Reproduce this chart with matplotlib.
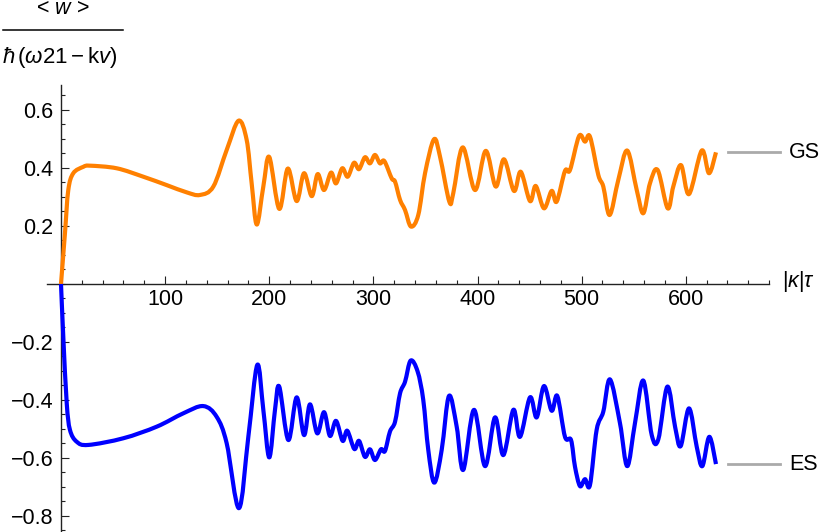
import numpy as np
import matplotlib
matplotlib.use("Agg")
import matplotlib.pyplot as plt
from matplotlib.lines import Line2D
from matplotlib.path import Path
from matplotlib.patches import PathPatch
from matplotlib.ticker import FixedLocator

plt.rcParams['font.family'] = ['Liberation Sans', 'DejaVu Sans']
plt.rcParams['mathtext.fontset'] = 'custom'
plt.rcParams['mathtext.rm'] = 'Liberation Sans'
plt.rcParams['mathtext.it'] = 'Liberation Sans:italic'
plt.rcParams['mathtext.fallback'] = 'stixsans'

# ====================
# Data
# ====================
gs_t = [0, 3.8, 7.0, 11.8, 21.4, 27.8, 53.5, 79.0, 101.5, 120.7, 133.5, 146.3,
        159.1, 170.5, 178.3, 183.1, 188.0, 194.3, 200.0, 209.6, 217.8, 226.3,
        233.4, 240.8, 246.5, 252.6, 259.3, 264.1, 270.1, 275.3, 281.4, 286.2,
        291.9, 296.7, 301.5, 306.3, 310.5, 317.6, 320.8, 325.6, 330.4, 336.1,
        343.1, 349.6, 358.2, 364.0, 372.9, 376.7, 385.8, 397.6, 407.9, 417.5,
        425.4, 435.0, 441.5, 450.4, 455.9, 463.8, 471.2, 476.0, 484.0, 488.8,
        497.5, 503.2, 508.0, 516.0, 520.8, 526.9, 535.2, 543.8, 552.9, 559.2,
        565.6, 573.0, 582.6, 588.0, 595.4, 603.1, 615.3, 622.3, 629.0]
gs_w = [0, 0.175, 0.324, 0.382, 0.404, 0.408, 0.399, 0.370, 0.341, 0.316, 0.307, 0.336,
        0.462, 0.563, 0.497, 0.347, 0.205, 0.336, 0.438, 0.259, 0.398, 0.286,
        0.382, 0.303, 0.379, 0.324, 0.384, 0.347, 0.399, 0.370, 0.418, 0.396,
        0.437, 0.416, 0.445, 0.416, 0.424, 0.364, 0.353, 0.290, 0.255, 0.198,
        0.238, 0.382, 0.499, 0.439, 0.284, 0.313, 0.471, 0.324, 0.459, 0.336,
        0.430, 0.321, 0.387, 0.286, 0.338, 0.261, 0.321, 0.284, 0.390, 0.393,
        0.510, 0.491, 0.508, 0.376, 0.336, 0.238, 0.359, 0.460, 0.324, 0.244,
        0.347, 0.393, 0.261, 0.336, 0.410, 0.310, 0.460, 0.382, 0.454]

es_t = [0, 2.2, 5.5, 8.6, 15.1, 26.2, 59.8, 91.9, 117.4, 136.7, 149.5, 159.1,
        170.9, 179.9, 188.5, 194.3, 200.0, 205.5, 209.6, 218.3, 226.3, 233.4,
        239.1, 246.1, 252.6, 258.3, 264.1, 270.5, 274.9, 281.7, 286.2, 291.9,
        296.7, 301.5, 307.3, 311.1, 315.9, 320.8, 325.6, 330.4, 335.8, 342.5,
        347.9, 352.7, 358.5, 365.6, 372.6, 380.0, 386.3, 396.6, 407.2, 416.8,
        424.8, 434.4, 440.8, 450.4, 456.8, 463.8, 471.2, 476.6, 484.0, 489.8,
        493.6, 498.4, 503.2, 508.0, 514.4, 520.8, 527.2, 536.8, 543.8, 551.2,
        559.2, 567.3, 573.6, 582.3, 589.7, 595.1, 603.1, 610.5, 615.9, 622.6, 629.0]
es_w = [0, -0.182, -0.411, -0.503, -0.544, -0.555, -0.532, -0.492, -0.446, -0.421, -0.458, -0.549,
        -0.773, -0.527, -0.279, -0.434, -0.598, -0.434, -0.354, -0.538, -0.391, -0.521,
        -0.415, -0.515, -0.442, -0.524, -0.472, -0.541, -0.506, -0.569, -0.541, -0.596,
        -0.570, -0.607, -0.570, -0.576, -0.509, -0.475, -0.377, -0.337, -0.264, -0.302,
        -0.400, -0.572, -0.685, -0.572, -0.386, -0.492, -0.641, -0.434, -0.628, -0.460,
        -0.590, -0.434, -0.527, -0.391, -0.460, -0.352, -0.437, -0.386, -0.527, -0.538,
        -0.630, -0.697, -0.673, -0.693, -0.503, -0.440, -0.329, -0.480, -0.628, -0.480,
        -0.333, -0.521, -0.536, -0.354, -0.492, -0.559, -0.429, -0.561, -0.628, -0.527, -0.621]

labels = ["GS", "ES"]
colors = ["#FF8000", "#0000FF"]

x_major = [100, 200, 300, 400, 500, 600]
y_major = [-0.8, -0.6, -0.4, -0.2, 0.2, 0.4, 0.6]


def smooth_path(xs, ys):
    # cubic Bezier segments through the read points (Catmull-Rom handles)
    P = np.column_stack([xs, ys])
    verts = [P[0]]
    codes = [Path.MOVETO]
    n = len(P)
    for i in range(n - 1):
        p0 = P[max(i - 1, 0)]
        p1 = P[i]
        p2 = P[i + 1]
        p3 = P[min(i + 2, n - 1)]
        verts += [p1 + (p2 - p0) / 6, p2 - (p3 - p1) / 6, p2]
        codes += [Path.CURVE4] * 3
    return Path(verts, codes)


# ====================
# Figure
# ====================
W, H = 830, 532
fig = plt.figure(figsize=(W / 100, H / 100), dpi=100)
ax = fig.add_axes([0, 0, 1, 1])
ax.patch.set_alpha(0)
ax.set_xlim(-58.58, 738.5)
ax.set_ylim(-0.8552, 0.9793)

fs = 15.5
axcol = "#222222"

for s in ["top", "right"]:
    ax.spines[s].set_visible(False)
ax.spines["left"].set_position(("data", 0))
ax.spines["bottom"].set_position(("data", 0))
ax.spines["left"].set_bounds(-0.855, 0.686)
ax.spines["bottom"].set_bounds(-13.4, 680)
for s in ["left", "bottom"]:
    ax.spines[s].set_linewidth(1.0)
    ax.spines[s].set_color(axcol)

ax.xaxis.set_major_locator(FixedLocator(x_major))
ax.xaxis.set_minor_locator(FixedLocator(np.arange(20, 681, 20)))
ax.yaxis.set_major_locator(FixedLocator(y_major))
ax.yaxis.set_minor_locator(FixedLocator(np.round(np.arange(-0.85, 0.66, 0.05), 2)))
ax.set_xticklabels([str(v) for v in x_major])
ax.set_yticklabels([f"{v:.1f}".replace("-", "\u2212") for v in y_major])
ax.tick_params(which="both", direction="in", color=axcol, width=0.8,
               labelsize=fs, labelcolor="black")
ax.tick_params(which="major", length=5.5)
ax.tick_params(which="minor", length=3.1)
ax.tick_params(axis="x", pad=3.5)
ax.tick_params(axis="y", pad=5.5)

# curves
for t, w, c in [(gs_t, gs_w, colors[0]), (es_t, es_w, colors[1])]:
    ax.add_patch(PathPatch(smooth_path(t, w), fill=False, edgecolor=c, lw=3.0,
                           joinstyle="round", capstyle="butt", zorder=3))

# end-of-curve labels
for t, w, lab in [(gs_t, gs_w, labels[0]), (es_t, es_w, labels[1])]:
    ax.plot([640.5, 690.5], [w[-1], w[-1]], color="#AAAAAA", lw=2.0)
    ax.text(699, w[-1], lab, fontsize=fs, va="center", ha="left")

# axis labels
ax.text(692, 0.008, r"$|\kappa|\tau$", fontsize=fs, va="center", ha="left")

fig.text(63 / W, 1 - 9 / H, r"< $w$ >", fontsize=15.5, ha="center", va="center")
fig.add_artist(Line2D([3 / W, 123 / W], [1 - 30 / H, 1 - 30 / H],
                      color="black", lw=1.1, transform=fig.transFigure))
fig.text(2 / W, 1 - 57 / H, r"$\hbar\,(\omega21 - \mathrm{k}v)$", fontsize=16,
         ha="left", va="center")

fig.savefig("out.png", dpi=100)
